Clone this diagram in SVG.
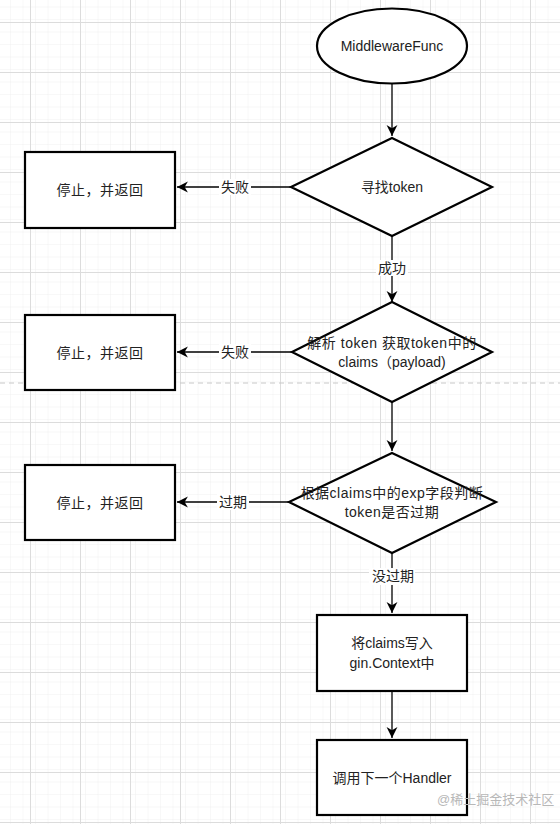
<svg xmlns="http://www.w3.org/2000/svg" width="560" height="824" viewBox="0 0 560 824">
<defs>
<pattern id="minor" width="12.5" height="12.5" patternUnits="userSpaceOnUse" x="30" y="22">
<path d="M0,0 H12.5 M0,0 V12.5" fill="none" stroke="#efefef" stroke-width="1"/>
</pattern>
<pattern id="major" width="50" height="50" patternUnits="userSpaceOnUse" x="30" y="22">
<rect width="50" height="50" fill="url(#minor)"/>
<path d="M0,0.5 H50 M0.5,0 V50" fill="none" stroke="#dcdcdc" stroke-width="1"/>
</pattern>
<marker id="arrow" markerWidth="12" markerHeight="12" refX="10" refY="5" orient="auto" markerUnits="userSpaceOnUse" viewBox="0 0 11 10">
<path d="M0,0 L10,5 L0,10 L3,5 z" fill="#000"/>
</marker>
</defs>
<style>
.shape{fill:#fff;stroke:#000;stroke-width:2.2}
.conn{fill:none;stroke:#000;stroke-width:1.3}
text{font-family:"Liberation Sans","Noto Sans CJK SC",Arial,sans-serif;font-size:14px;fill:#222;text-anchor:middle;dominant-baseline:central}
.cjk{letter-spacing:0.5px}
.lbl{fill:#fff;stroke:none}
.wm{font-size:13px;fill:#b8b8b8;text-anchor:start}
</style>
<rect width="560" height="824" fill="#fff"/>
<rect width="560" height="824" fill="url(#major)"/>
<line x1="0" y1="383" x2="560" y2="383" stroke="#c8c8c8" stroke-width="1" stroke-dasharray="5,4"/>

<g id="connectors">
<line class="conn" x1="392" y1="84" x2="392" y2="136" marker-end="url(#arrow)"/>
<line class="conn" x1="291" y1="187" x2="177" y2="187" marker-end="url(#arrow)"/>
<line class="conn" x1="392" y1="236" x2="392" y2="302" marker-end="url(#arrow)"/>
<line class="conn" x1="292" y1="352" x2="177" y2="352" marker-end="url(#arrow)"/>
<line class="conn" x1="392" y1="402" x2="392" y2="451" marker-end="url(#arrow)"/>
<line class="conn" x1="289" y1="502" x2="177" y2="502" marker-end="url(#arrow)"/>
<line class="conn" x1="392" y1="553" x2="392" y2="613" marker-end="url(#arrow)"/>
<line class="conn" x1="392" y1="691" x2="392" y2="738" marker-end="url(#arrow)"/>
<rect class="lbl" x="219" y="179" width="32" height="16"/>
<text x="235" y="187">失败</text>
<rect class="lbl" x="376" y="260" width="32" height="16"/>
<text x="392" y="268">成功</text>
<rect class="lbl" x="219" y="344" width="32" height="16"/>
<text x="235" y="352">失败</text>
<rect class="lbl" x="217" y="494" width="32" height="16"/>
<text x="233" y="502">过期</text>
<rect class="lbl" x="369" y="568" width="46" height="17"/>
<text x="393" y="576">没过期</text>
</g>

<g id="start">
<ellipse class="shape" cx="392" cy="46" rx="75" ry="37.5"/>
<text x="392" y="46">MiddlewareFunc</text>
</g>
<g id="find-token">
<polygon class="shape" points="392,138 492,187 392,236 291,187"/>
<text x="392" y="187">寻找token</text>
</g>
<g id="stop1">
<rect class="shape" x="25" y="152" width="150" height="76"/>
<text class="cjk" x="100" y="190">停止，并返回</text>
</g>
<g id="parse-token">
<polygon class="shape" points="392,302 492,352 392,402 292,352"/>
<text class="cjk" x="392" y="343">解析 token 获取token中的</text>
<text x="392" y="362">claims（payload)</text>
</g>
<g id="stop2">
<rect class="shape" x="25" y="315" width="150" height="75"/>
<text class="cjk" x="100" y="353">停止，并返回</text>
</g>
<g id="check-exp">
<polygon class="shape" points="392,453 496,502 392,553 289,502"/>
<text class="cjk" x="392" y="493">根据claims中的exp字段判断</text>
<text class="cjk" x="392" y="512">token是否过期</text>
</g>
<g id="stop3">
<rect class="shape" x="25" y="465" width="150" height="75"/>
<text class="cjk" x="100" y="503">停止，并返回</text>
</g>
<g id="write-claims">
<rect class="shape" x="317" y="615" width="150" height="76"/>
<text x="392" y="643">将claims写入</text>
<text x="392" y="663">gin.Context中</text>
</g>
<g id="next-handler">
<rect class="shape" x="317" y="740" width="150" height="75"/>
<text x="392" y="778">调用下一个Handler</text>
</g>
<text class="wm" x="437" y="799">@稀土掘金技术社区</text>
</svg>
